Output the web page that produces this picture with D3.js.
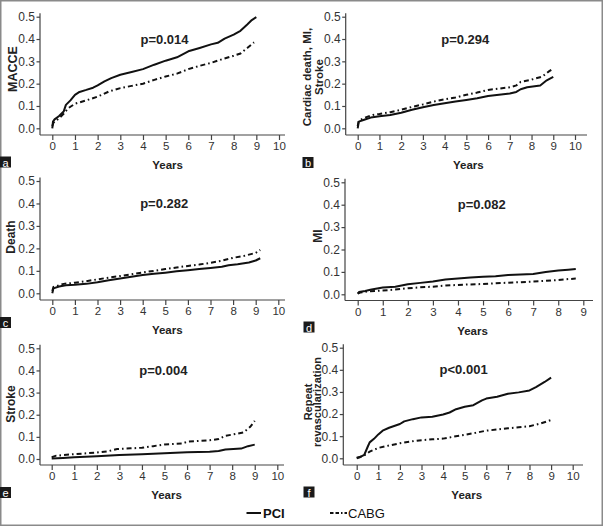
<!DOCTYPE html>
<html><head><meta charset="utf-8">
<script src="https://cdn.jsdelivr.net/npm/d3@7"></script>
<style>
html,body{margin:0;padding:0;background:#fff;}
svg{display:block;font-family:"Liberation Sans",Arial,sans-serif;}
</style></head>
<body><svg id="c" width="605" height="527"></svg>
<script>
// ---- data (years, cumulative incidence) ----
const maccePCI = [[0,0],[0.03,0.03],[0.1,0.04],[0.3,0.055],[0.5,0.075],[0.6,0.105],[0.8,0.125],[1,0.15],[1.2,0.163],[1.5,0.172],[1.8,0.182],[2,0.192],[2.3,0.21],[2.6,0.225],[3,0.24],[3.5,0.252],[4,0.265],[4.5,0.285],[5,0.303],[5.5,0.318],[6,0.345],[6.5,0.36],[7,0.376],[7.3,0.383],[7.6,0.402],[8,0.42],[8.3,0.437],[8.6,0.465],[8.8,0.485],[9,0.498]];
const macceCABG = [[0,0.01],[0.05,0.025],[0.3,0.045],[0.5,0.065],[0.7,0.09],[1,0.11],[1.5,0.125],[2,0.142],[2.5,0.165],[3,0.18],[3.5,0.19],[4,0.2],[4.5,0.217],[5,0.232],[5.5,0.245],[6,0.265],[6.5,0.28],[7,0.293],[7.5,0.31],[8,0.325],[8.3,0.335],[8.6,0.36],[8.9,0.385]];
const cardPCI = [[0,0],[0.05,0.03],[0.3,0.038],[0.6,0.048],[1,0.054],[1.5,0.06],[2,0.07],[2.5,0.083],[3,0.094],[3.5,0.104],[4,0.112],[4.5,0.12],[5,0.127],[5.5,0.135],[6,0.145],[6.5,0.15],[7,0.156],[7.3,0.163],[7.5,0.175],[7.8,0.184],[8.4,0.192],[8.7,0.215],[9,0.23]];
const cardCABG = [[0,0.01],[0.05,0.035],[0.4,0.05],[0.7,0.06],[1,0.064],[1.5,0.072],[2,0.083],[2.5,0.096],[3,0.107],[3.5,0.12],[4,0.13],[4.5,0.138],[5,0.15],[5.5,0.16],[6,0.172],[6.5,0.178],[7,0.184],[7.3,0.192],[7.5,0.208],[8,0.218],[8.5,0.232],[8.8,0.255],[9,0.268]];
const deathPCI = [[0,0],[0.05,0.022],[0.3,0.03],[0.6,0.036],[1,0.038],[1.5,0.042],[2,0.049],[2.5,0.058],[3,0.066],[3.5,0.074],[4,0.081],[4.5,0.087],[5,0.092],[5.5,0.098],[6,0.103],[6.5,0.108],[7,0.113],[7.5,0.118],[7.8,0.125],[8.2,0.129],[8.7,0.137],[9,0.146],[9.2,0.156]];
const deathCABG = [[0,0.01],[0.05,0.028],[0.5,0.042],[1,0.047],[1.5,0.054],[2,0.062],[2.5,0.07],[3,0.077],[3.5,0.085],[4,0.093],[4.5,0.1],[5,0.108],[5.5,0.115],[6,0.122],[6.5,0.128],[7,0.136],[7.5,0.145],[8,0.158],[8.5,0.167],[9,0.18],[9.2,0.193]];
const miPCI = [[0,0.003],[0.05,0.01],[0.3,0.015],[0.5,0.02],[1,0.03],[1.5,0.034],[2,0.045],[2.5,0.051],[3,0.057],[3.5,0.066],[4,0.07],[4.5,0.075],[5,0.078],[5.5,0.081],[6,0.086],[6.5,0.088],[7,0.091],[7.5,0.1],[8,0.106],[8.4,0.11],[8.7,0.113]];
const miCABG = [[0,0.003],[0.1,0.008],[0.5,0.014],[1,0.017],[1.5,0.021],[2,0.027],[2.5,0.031],[3,0.034],[3.5,0.039],[4,0.042],[4.5,0.044],[5,0.046],[5.5,0.049],[6,0.052],[6.5,0.054],[7,0.057],[7.5,0.06],[8,0.064],[8.4,0.068],[8.7,0.07]];
const strokePCI = [[0,0.002],[0.5,0.005],[1,0.008],[2,0.012],[3,0.018],[4,0.021],[5,0.026],[6,0.03],[7,0.033],[7.4,0.036],[7.7,0.043],[8.4,0.047],[8.7,0.058],[9,0.065]];
const strokeCABG = [[0,0.008],[0.2,0.015],[1,0.022],[2,0.029],[2.5,0.035],[2.9,0.045],[3.5,0.048],[4,0.051],[4.5,0.058],[5,0.066],[5.8,0.07],[6,0.078],[7,0.085],[7.4,0.09],[7.7,0.105],[8,0.11],[8.5,0.12],[8.8,0.145],[9,0.172]];
const revPCI = [[0,0],[0.15,0.005],[0.35,0.015],[0.5,0.05],[0.6,0.072],[0.8,0.088],[1,0.108],[1.2,0.125],[1.5,0.138],[1.8,0.148],[2,0.155],[2.2,0.167],[2.6,0.177],[3,0.185],[3.5,0.188],[4,0.198],[4.3,0.207],[4.6,0.222],[5,0.233],[5.4,0.24],[5.8,0.262],[6,0.27],[6.5,0.278],[7,0.292],[7.5,0.298],[8,0.307],[8.3,0.322],[8.7,0.345],[9,0.365]];
const revCABG = [[0,0.003],[0.3,0.01],[0.6,0.03],[1,0.047],[1.5,0.058],[2,0.068],[2.5,0.076],[3,0.082],[3.5,0.086],[4,0.089],[4.5,0.098],[5,0.106],[5.5,0.115],[6,0.125],[6.5,0.13],[7,0.136],[7.5,0.14],[8,0.145],[8.5,0.157],[9,0.173]];

const panelLetters = ["a","b","c","d","e","f"];
const yTitles = [["MACCE"],["Cardiac death, MI,","Stroke"],["Death"],["MI"],["Stroke"],["Repeat","revascularization"]];
const pValues = ["p=0.014","p=0.294","p=0.282","p=0.082","p=0.004","p<0.001"];
const xMaxYears = [10,10,10,9,10,10];
const yTicks = [0,0.1,0.2,0.3,0.4,0.5];
const seriesNames = ["PCI","CABG"];
const pciSeries = [maccePCI,cardPCI,deathPCI,miPCI,strokePCI,revPCI];
const cabgSeries = [macceCABG,cardCABG,deathCABG,miCABG,strokeCABG,revCABG];

// ---- layout (yt = baseline x of each rotated title line) ----
const layout = [
  {ax:40,  x0:52.3, x1:279,   y0:128.3, y1:16.7,  xa:135,   end:285, lab:[0,156.5],  yt:[16.5], ym:69, fs:12.5},
  {ax:345.7,x0:357.7,x1:575,  y0:128.3, y1:16.7,  xa:135,   end:587, lab:[302.5,157], yt:[310.5,322.5], ym:77, fs:11.5},
  {ax:40,  x0:52.3, x1:278.3, y0:293.3, y1:181,   xa:300,   end:285, lab:[0,317],    yt:[15], ym:237, fs:12},
  {ax:345, x0:357.7,x1:583.3, y0:294.3, y1:182.3, xa:300.5, end:593, lab:[303.5,321.5],yt:[321.5], ym:236, fs:12},
  {ax:40,  x0:51.7, x1:277.3, y0:459,   y1:348.3, xa:465,   end:284, lab:[0,487],    yt:[15], ym:404, fs:12},
  {ax:343.3,x0:356.7,x1:572.7,y0:458.3, y1:347.7, xa:465,   end:583, lab:[303.5,486.5],yt:[311.5,321], ym:402, fs:11}
];
const dash = "5,3,1.6,3";
const svg = d3.select("#c");

svg.append("rect").attr("x",0.75).attr("y",0.75).attr("width",601.5).attr("height",524.5)
  .attr("fill","none").attr("stroke","#8a8a8a").attr("stroke-width",1.5);

layout.forEach((L,i)=>{
  const g = svg.append("g");
  const x = d3.scaleLinear().domain([0,xMaxYears[i]]).range([L.x0,L.x1]);
  const y = d3.scaleLinear().domain([0,0.5]).range([L.y0,L.y1]);

  // axis lines
  g.append("line").attr("x1",L.ax).attr("x2",L.ax).attr("y1",L.y1-3.5).attr("y2",L.xa)
    .attr("stroke","#444").attr("stroke-width",1.2);
  g.append("line").attr("x1",L.ax).attr("x2",L.end).attr("y1",L.xa).attr("y2",L.xa)
    .attr("stroke","#444").attr("stroke-width",1.2);

  const ya = g.append("g").attr("transform",`translate(${L.ax},0)`)
    .call(d3.axisLeft(y).tickValues(yTicks).tickFormat(d3.format(".1f")).tickSize(3.5).tickPadding(1.5));
  ya.select(".domain").remove();
  ya.selectAll("line").attr("stroke","#444").attr("stroke-width",1.2);
  ya.selectAll("text").attr("font-size",12).attr("fill","#333").attr("font-family","Liberation Sans, Arial, sans-serif");

  const xa = g.append("g").attr("transform",`translate(0,${L.xa})`)
    .call(d3.axisBottom(x).ticks(xMaxYears[i]).tickFormat(d3.format("d")).tickSize(5).tickPadding(2));
  xa.select(".domain").remove();
  xa.selectAll("line").attr("stroke","#444").attr("stroke-width",1.2);
  xa.selectAll("text").attr("font-size",11.5).attr("fill","#333").attr("font-family","Liberation Sans, Arial, sans-serif");

  // x title
  g.append("text").attr("x",(L.x0+ x(Math.min(10,xMaxYears[i])))/2 + 2).attr("y",L.xa+34)
    .attr("text-anchor","middle").attr("font-size",11.5).attr("font-weight","bold").attr("fill","#222").text("Years");

  // y title
  yTitles[i].forEach((t,k)=>{
    g.append("text").attr("transform",`translate(${L.yt[k]},${L.ym}) rotate(-90)`)
      .attr("text-anchor","middle")
      .attr("font-size",L.fs).attr("font-weight","bold").attr("fill","#222").text(t);
  });

  // p value
  g.append("text").attr("x",x(4.95)).attr("y",y(0.4))
    .attr("text-anchor","middle").attr("dominant-baseline","central")
    .attr("font-size",13).attr("font-weight","bold").attr("fill","#222").text(pValues[i]);

  // panel letter
  g.append("rect").attr("x",L.lab[0]).attr("y",L.lab[1]).attr("width",11).attr("height",11).attr("fill","#1a1a1a");
  g.append("text").attr("x",L.lab[0]+5.5).attr("y",L.lab[1]+6).attr("text-anchor","middle")
    .attr("dominant-baseline","central").attr("font-size",11).attr("fill","#fff").text(panelLetters[i]);

  const line = d3.line().x(d=>x(d[0])).y(d=>y(d[1]));
  g.append("path").attr("d",line(cabgSeries[i])).attr("fill","none").attr("stroke","#111")
    .attr("stroke-width",2).attr("stroke-dasharray",dash);
  g.append("path").attr("d",line(pciSeries[i])).attr("fill","none").attr("stroke","#111")
    .attr("stroke-width",2).attr("stroke-linejoin","round");
});

// legend
const leg = svg.append("g");
leg.append("line").attr("x1",246.5).attr("x2",261).attr("y1",513).attr("y2",513).attr("stroke","#111").attr("stroke-width",2);
leg.append("text").attr("x",263).attr("y",513).attr("dominant-baseline","central")
  .attr("font-size",13).attr("font-weight","bold").attr("fill","#111").text(seriesNames[0]);
leg.append("line").attr("x1",330).attr("x2",347).attr("y1",513).attr("y2",513).attr("stroke","#111")
  .attr("stroke-width",2).attr("stroke-dasharray","3.5,2,3.5,2,1.5,2");
leg.append("text").attr("x",348).attr("y",513).attr("dominant-baseline","central")
  .attr("font-size",13).attr("fill","#111").text(seriesNames[1]);
</script></body></html>
